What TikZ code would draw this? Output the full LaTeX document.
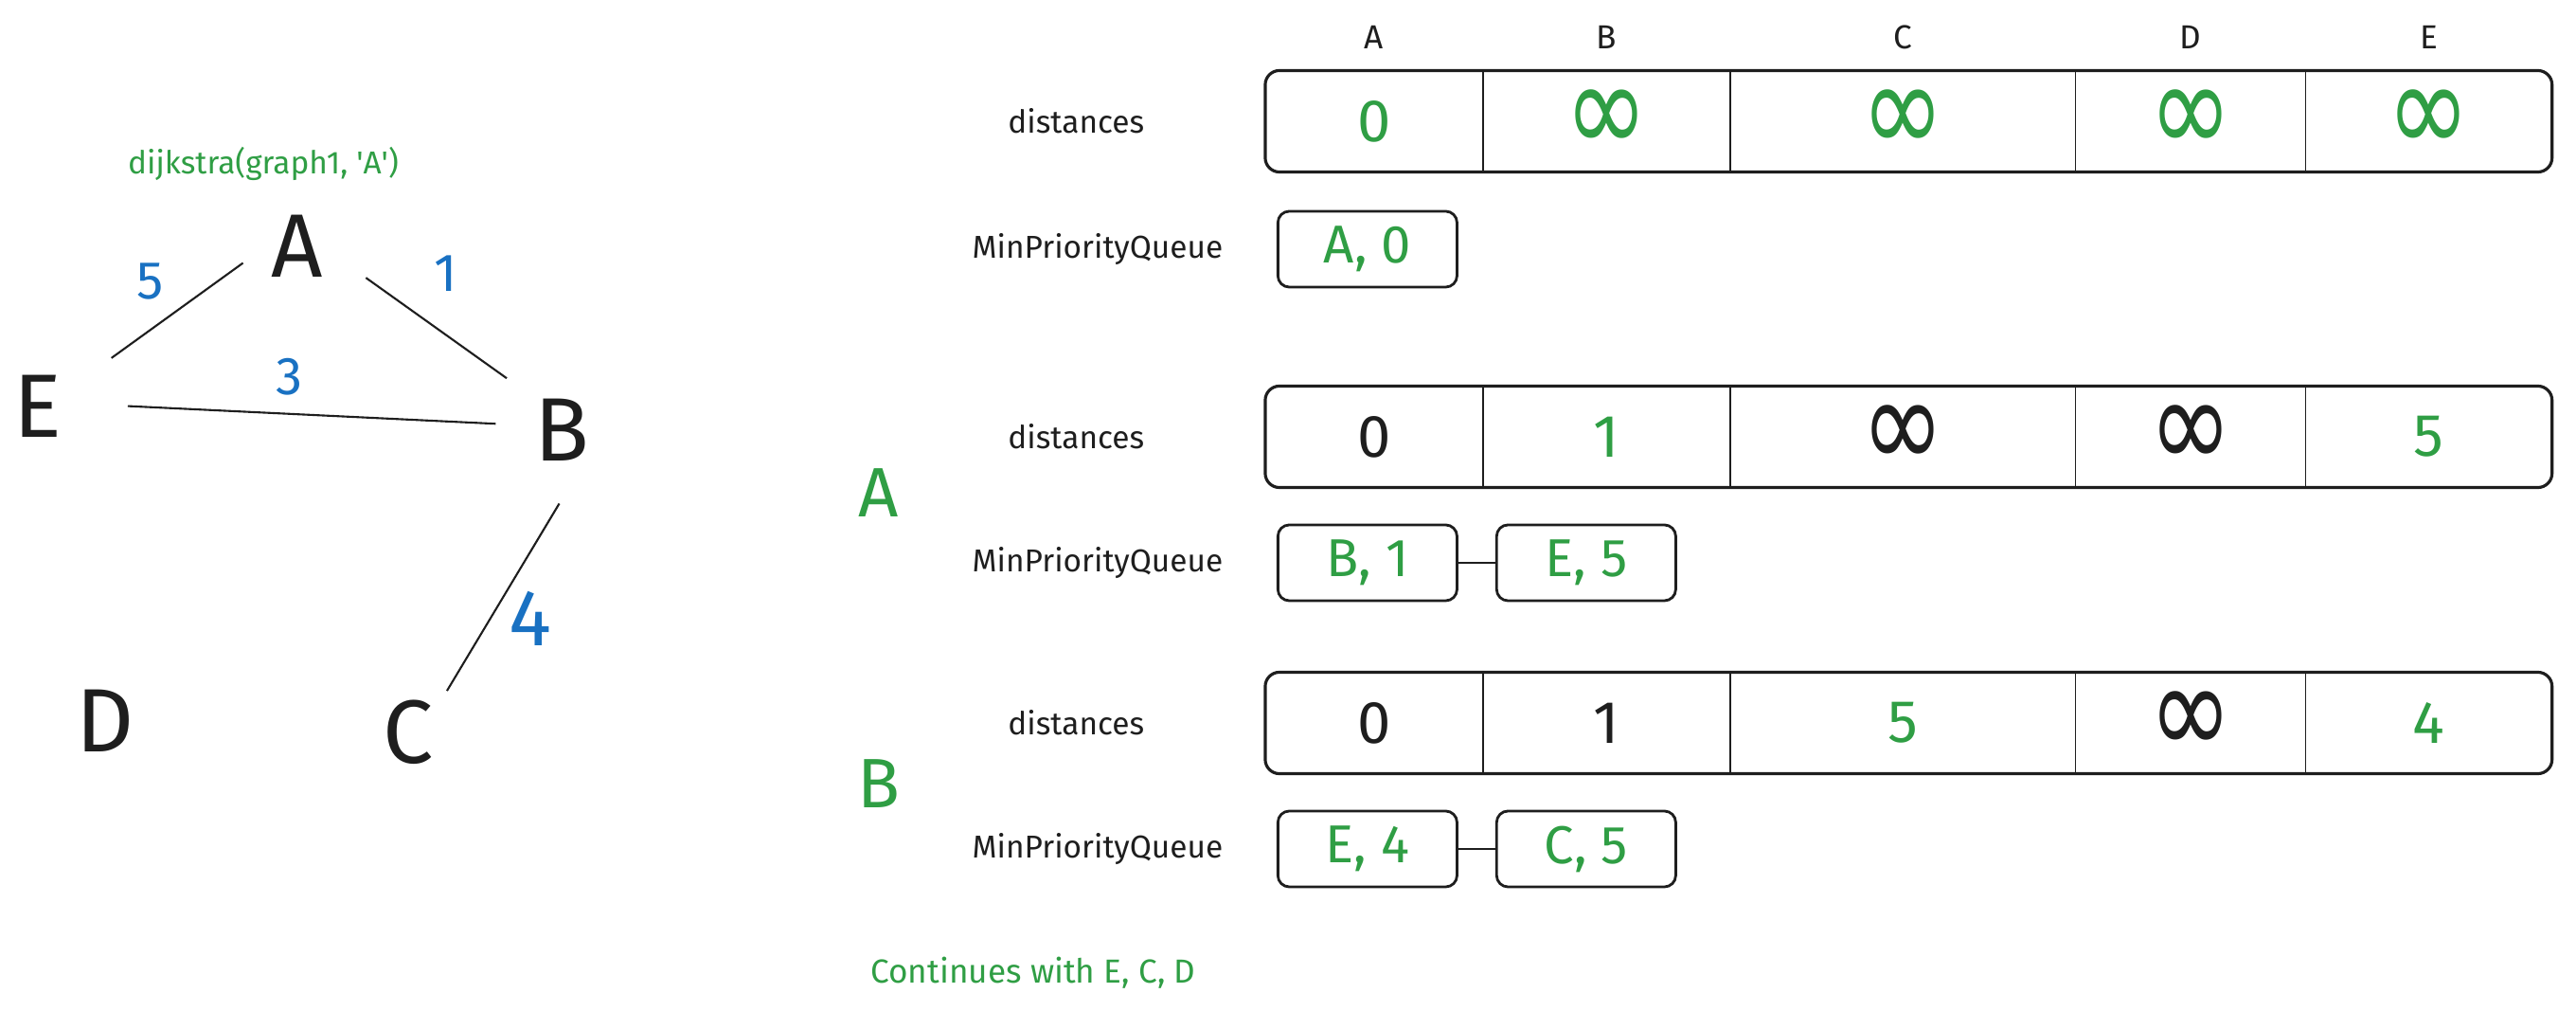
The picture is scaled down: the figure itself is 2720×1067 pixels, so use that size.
\documentclass[tikz,border=0pt]{standalone}
\usepackage{graphicx}
\usepackage{fontspec}
\setmainfont{Fira Sans}
\newfontfamily\symfont{DejaVu Sans}
\usetikzlibrary{positioning,fit}
\definecolor{inkgreen}{RGB}{47,158,68}
\definecolor{inkblue}{RGB}{25,113,194}
\definecolor{ink}{RGB}{30,30,30}
\newcommand{\infsym}{\scalebox{1}[1.3]{\symfont\fontsize{30}{30}\selectfont ∞}}

\begin{document}
\begin{tikzpicture}[x=0.01cm, y=-0.01cm,
				vertex/.style={circle, inner sep=0pt, outer sep=0pt, minimum size=1.2cm, text=ink, font=\fontsize{27}{27}\selectfont},
				weight/.style={text=inkblue, font=\fontsize{16}{16}\selectfont},
				note/.style={text=inkgreen, font=\fontsize{9.5}{10}\selectfont},
				stage/.style={text=inkgreen, font=\fontsize{21}{21}\selectfont},
				rowname/.style={text=ink, inner sep=0pt, font=\fontsize{9.5}{10}\selectfont},
				header/.style={text=ink, inner sep=0pt, font=\fontsize{10}{10}\selectfont},
				cell/.style={minimum height=1.07cm, inner sep=0pt, outer sep=0pt, text=ink, font=\fontsize{18}{18}\selectfont},
				changed/.style={text=inkgreen},
				cola/.style={cell, minimum width=2.30cm},
				colb/.style={cell, minimum width=2.61cm},
				colc/.style={cell, minimum width=3.64cm},
				cold/.style={cell, minimum width=2.43cm},
				cole/.style={cell, minimum width=2.60cm},
				tableframe/.style={draw=ink, line width=0.9pt, rounded corners=0.15cm, inner sep=0pt, fit=#1},
				divider/.style={draw=ink, line width=0.5pt},
				qitem/.style={draw=ink, line width=0.8pt, rounded corners=0.12cm, minimum width=1.89cm, minimum height=0.8cm, inner sep=0pt, text=inkgreen, font=\fontsize{16}{16}\selectfont}
			]
			\useasboundingbox (0,0) rectangle (2720,1067);
			% the graph
			\node[note] (title) at (278,173) {dijkstra(graph1, \textquotesingle A\textquotesingle)};
			\node[vertex] (A) at (314,260) {A};
			\node[vertex] (E) at (40,429) {E};
			\node[vertex] (B) at (593,454) {B};
			\node[vertex] (D) at (111,761) {D};
			\node[vertex] (C) at (431,773) {C};
			\begin{scope}[draw=ink, line width=0.6pt]
			\draw[shorten >=0.33cm] (A.197) -- (E.32);
			\draw[shorten <=0.2cm, shorten >=0.2cm] (A.339) -- (B.134);
			\draw[shorten <=0.35cm, shorten >=0.1cm] (E.2) -- (B.174);
			\draw[shorten <=0.21cm] (B.278) -- (C.47);
			\end{scope}
			\node[weight] (wAE) at (159,297) {5};
			\node[weight] (wAB) at (471,289) {1};
			\node[weight] (wEB) at (306,398) {3};
			\node[weight, font=\fontsize{24}{24}\selectfont] (wBC) at (560,653) {4};
			% start
			\node[cola, changed] (t1a) at (1451,128) {0};
			\node[colb, changed] (t1b) [right=0pt of t1a] {\infsym};
			\node[colc, changed] (t1c) [right=0pt of t1b] {\infsym};
			\node[cold, changed] (t1d) [right=0pt of t1c] {\infsym};
			\node[cole, changed] (t1e) [right=0pt of t1d] {\infsym};
			\node[tableframe={(t1a)(t1e)}] (dist1) {};
			\foreach \c in {a,b,c,d}
				\draw[divider] (t1\c.north east) -- (t1\c.south east);
			\node[header] (ha) [above=0.22cm of t1a] {A};
			\node[header] (hb) [above=0.22cm of t1b] {B};
			\node[header] (hc) [above=0.22cm of t1c] {C};
			\node[header] (hd) [above=0.22cm of t1d] {D};
			\node[header] (he) [above=0.22cm of t1e] {E};
			\node[rowname] (dist1lbl) [left=1.27cm of t1a] {distances};
			\node[qitem] (q1a) [below right=0.4cm and 0.12cm of t1a.south west] {A, 0};
			\node[rowname] (q1lbl) [left=0.56cm of q1a] {MinPriorityQueue};
			% after visiting A
			\node[cola] (t2a) at (1451,461) {0};
			\node[colb, changed] (t2b) [right=0pt of t2a] {1};
			\node[colc] (t2c) [right=0pt of t2b] {\infsym};
			\node[cold] (t2d) [right=0pt of t2c] {\infsym};
			\node[cole, changed] (t2e) [right=0pt of t2d] {5};
			\node[tableframe={(t2a)(t2e)}] (dist2) {};
			\foreach \c in {a,b,c,d}
				\draw[divider] (t2\c.north east) -- (t2\c.south east);
			\node[rowname] (dist2lbl) [left=1.27cm of t2a] {distances};
			\node[qitem] (q2a) [below right=0.38cm and 0.12cm of t2a.south west] {B, 1};
			\node[qitem] (q2b) [right=0.39cm of q2a] {E, 5};
			\draw[divider, line width=0.6pt] (q2a) -- (q2b);
			\node[rowname] (q2lbl) [left=0.56cm of q2a] {MinPriorityQueue};
			\node[stage] (stageA) at (928,520) {A};
			% after visiting B
			\node[cola] (t3a) at (1451,763) {0};
			\node[colb] (t3b) [right=0pt of t3a] {1};
			\node[colc, changed] (t3c) [right=0pt of t3b] {5};
			\node[cold] (t3d) [right=0pt of t3c] {\infsym};
			\node[cole, changed] (t3e) [right=0pt of t3d] {4};
			\node[tableframe={(t3a)(t3e)}] (dist3) {};
			\foreach \c in {a,b,c,d}
				\draw[divider] (t3\c.north east) -- (t3\c.south east);
			\node[rowname] (dist3lbl) [left=1.27cm of t3a] {distances};
			\node[qitem] (q3a) [below right=0.38cm and 0.12cm of t3a.south west] {E, 4};
			\node[qitem] (q3b) [right=0.39cm of q3a] {C, 5};
			\draw[divider, line width=0.6pt] (q3a) -- (q3b);
			\node[rowname] (q3lbl) [left=0.56cm of q3a] {MinPriorityQueue};
			\node[stage] (stageB) at (928,827) {B};
			\node[note, anchor=west, font=\fontsize{10}{10}\selectfont] (cont) at (907,1027) {Continues with E, C, D};
			\end{tikzpicture}
\end{document}
